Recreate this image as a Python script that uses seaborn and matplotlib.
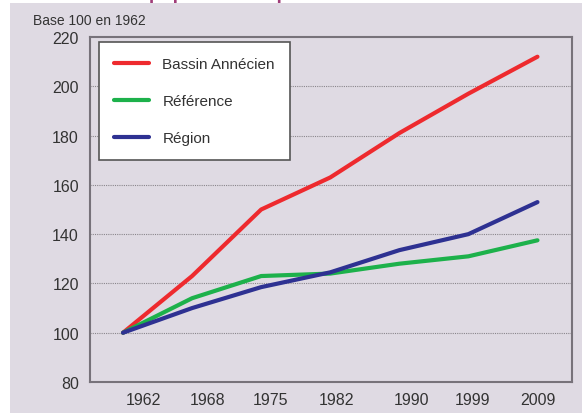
import matplotlib
matplotlib.use("Agg")
import matplotlib.pyplot as plt
import seaborn as sns
import pandas as pd
from matplotlib.patches import Rectangle

# data (base 100 en 1962)
years = ['1962', '1968', '1975', '1982', '1990', '1999', '2009']
bassin = [100, 123, 150, 163, 181, 197, 212]
reference = [100, 114, 123, 124, 128, 131, 137.5]
region = [100, 110, 118.5, 124.5, 133.5, 140, 153]
series = ['Bassin Annécien', 'Référence', 'Région']
colors = ['#ee2a2e', '#1db14b', '#2e3192']

df = pd.DataFrame({
    'pos': list(range(len(years))) * 3,
    'val': bassin + reference + region,
    'serie': [s for s in series for _ in years]})

sns.set_theme(style='white')
plt.rcParams['font.family'] = ['Liberation Sans', 'DejaVu Sans']

bg = '#dfdae3'
edge = '#77727a'
txt = '#333333'
fig = plt.figure(figsize=(5.82, 4.14), dpi=100, facecolor='white')
fig.patches.append(Rectangle((10/582, 0), 1, 410/414, transform=fig.transFigure,
                             facecolor=bg, edgecolor='none', zorder=-1))
ax = fig.add_axes([90/582, 1 - 383/414, (572-90)/582, (383-38)/414])
ax.set_facecolor(bg)

sns.lineplot(data=df, x='pos', y='val', hue='serie', hue_order=series,
             palette=colors, linewidth=3, ax=ax, legend=True)

ax.set_ylim(80, 220)
ax.set_yticks(range(80, 221, 20))
ax.set_xlim(-0.478, 6.5)
# labels sit a bit right of the points in the original
label_shift = [0.29, 0.22, 0.13, 0.09, 0.17, 0.06, 0.01]
ax.set_xticks([i + s for i, s in enumerate(label_shift)])
ax.set_xticklabels(years)
ax.set_xlabel('')
ax.set_ylabel('')
ax.tick_params(axis='x', length=0, labelsize=11.5, pad=7, labelcolor=txt)
ax.tick_params(axis='y', length=4, width=1, color=edge, labelsize=11.5,
               direction='out', labelcolor=txt, pad=4)
for y in range(100, 201, 20):
    ax.axhline(y, color='#8a868c', linestyle=(0, (1, 1)), linewidth=0.8, zorder=0)
for sp in ax.spines.values():
    sp.set_color(edge)
    sp.set_linewidth(1.5)

handles, labels = ax.get_legend_handles_labels()
leg = ax.legend(handles, labels, loc='upper left',
                bbox_to_anchor=(99/582, 1 - 43/414), bbox_transform=fig.transFigure,
                borderaxespad=0, fancybox=False, framealpha=1, facecolor='white',
                edgecolor='#555555', fontsize=11, handlelength=2.3,
                labelspacing=1.5, borderpad=1.0, handletextpad=0.85)
leg.get_frame().set_linewidth(1.2)
for t in leg.get_texts():
    t.set_color(txt)

fig.text(33/582, 1 - 21/414, 'Base 100 en 1962', fontsize=10, color=txt,
         va='center', ha='left')
# title of the page, cut off at the top edge like in the original
fig.text(5/582, 1 + 1/414, 'Évolution de la population depuis 1962', fontsize=14,
         fontweight='bold', color='#a03c78', va='baseline', ha='left')

fig.savefig('out.png', dpi=100, facecolor='white')
